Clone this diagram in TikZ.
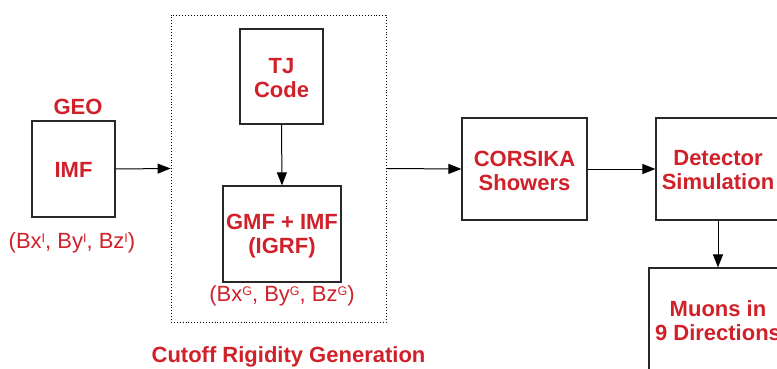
\documentclass[tikz,border=0pt]{standalone}
\usepackage{fontspec}
\setmainfont{Liberation Sans}
\usetikzlibrary{arrows.meta}
\definecolor{lbl}{RGB}{208,33,42}
\definecolor{bord}{RGB}{40,40,40}
\newcommand{\supI}[1]{\raisebox{0.55ex}{\fontsize{12.5}{12.5}\selectfont #1}}
\tikzset{
  blk/.style={draw=bord,line width=1.2pt,inner sep=0pt},
  lab/.style={text=lbl,font=\bfseries\fontsize{22}{24}\selectfont,align=center,inner sep=0pt},
  reg/.style={text=lbl,font=\fontsize{22}{24}\selectfont,inner sep=0pt},
  conn/.style={line width=1pt,-{Triangle[length=13pt,width=10pt]}},
}
\begin{document}
\begin{tikzpicture}[x=1pt,y=-1pt]
\useasboundingbox (0,0) rectangle (777,369);
% blocks
\node[blk,minimum width=83pt,minimum height=96pt] (imf) at (73.5,169) {};
\node[draw=black,dotted,line width=0.9pt,minimum width=215pt,minimum height=307pt,inner sep=0pt] (cut) at (278.5,168.5) {};
\node[blk,minimum width=83pt,minimum height=95pt] (tj) at (281.5,76.5) {};
\node[blk,minimum width=118pt,minimum height=96pt] (gmf) at (282,234) {};
\node[blk,minimum width=125pt,minimum height=102pt] (cors) at (524.5,169) {};
\node[blk,minimum width=124pt,minimum height=102pt] (det) at (718,169) {};
\node[blk,minimum width=138pt,minimum height=104pt] (muon) at (718,320) {};
% texts
\node[lab] (geo) at (78,107) {GEO};
\node[lab] (imft) at (73.5,169.5) {IMF};
\node[reg] (bi) at (72,243) {(Bx\supI{I}, By\supI{I}, Bz\supI{I})};
\node[lab] (tjt) at (281.5,78) {TJ\\Code};
\node[lab] (gmft) at (282,236) {GMF + IMF\\(IGRF)};
\node[reg] (bg) at (282,296) {(Bx\supI{G}, By\supI{G}, Bz\supI{G})};
\node[lab] (cutt) at (288.5,357) {Cutoff Rigidity Generation};
\node[lab] (corst) at (524.5,170.5) {CORSIKA\\Showers};
\node[lab] (dett) at (718,170.5) {Detector\\Simulation};
\node[lab] (muont) at (718,321) {Muons in\\9 Directions};
% connectors
\draw[conn] (imf.east) -- (cut.west);
\draw[conn] (tj.south) -- (gmf.north);
\draw[conn] (cut.east) -- (cors.west);
\draw[conn] (cors.east) -- (det.west);
\draw[conn] (det.south) -- (muon.north);
\end{tikzpicture}
\end{document}
